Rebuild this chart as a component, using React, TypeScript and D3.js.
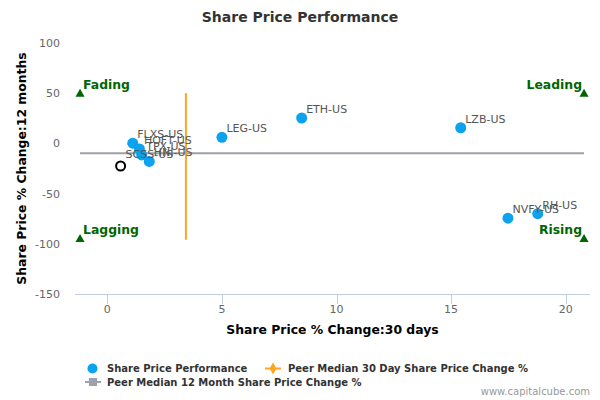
import React from "react";
import * as d3 from "d3";

const companies = ["FLXS-US", "HOFT-US", "TPX-US", "HNI-US", "LEG-US", "ETH-US", "LZB-US", "NVFY-US", "RH-US"];
const change30d = [1.11, 1.4, 1.5, 1.83, 5.0, 8.48, 15.42, 17.48, 18.78];
const change12m = [0.2, -5.5, -11.5, -18, 6.1, 25.3, 15.6, -74.5, -70];

const subjectName = "SCSS-US";
const subject30d = 0.58;
const subject12m = -22.5;

const peerMedian30d = 3.43;
const peerMedian12m = -9.9;

const quadrantX = [-1.19, 20.8];
const quadrantY = [49.2, -95.5];
const quadrantNames = ["Fading", "Leading", "Lagging", "Rising"];

const xTicks = [0, 5, 10, 15, 20];
const yTicks = [100, 50, 0, -50, -100, -150];

const W = 600;
const H = 400;
const plot = { left: 75, right: 590, top: 43, bottom: 294 };
const FONT = "'DejaVu Sans', sans-serif";
const BLUE = "#0ba2ee";
const ORANGE = "#ffa51f";
const GRAY = "#9ea1ab";
const GREEN = "#006600";

export default function App() {
  const x = d3.scaleLinear().domain([-1.41, 21.06]).range([plot.left, plot.right]);
  const y = d3.scaleLinear().domain([-150, 100]).range([plot.bottom, plot.top]);

  const tri = d3.symbol().type(d3.symbolTriangle).size(36)();
  const diamond = d3.symbol().type(d3.symbolDiamond).size(40)();

  const quads = [
    { name: quadrantNames[0], qx: quadrantX[0], qy: quadrantY[0], anchor: "start" },
    { name: quadrantNames[1], qx: quadrantX[1], qy: quadrantY[0], anchor: "end" },
    { name: quadrantNames[2], qx: quadrantX[0], qy: quadrantY[1], anchor: "start" },
    { name: quadrantNames[3], qx: quadrantX[1], qy: quadrantY[1], anchor: "end" },
  ];

  return (
    <svg width={W} height={H} style={{ position: "absolute", left: 0, top: 0, background: "#fff" }} fontFamily={FONT}>
      <rect width={W} height={H} fill="#fff" />
      <text x={300} y={21.5} textAnchor="middle" fontSize={14} fontWeight="bold" fill="#333">
        Share Price Performance
      </text>

      {/* y tick labels */}
      {yTicks.map((t) => (
        <text key={t} x={60} y={y(t) + 4} textAnchor="end" fontSize={11} fill="#666">
          {t}
        </text>
      ))}

      {/* x axis */}
      <line x1={plot.left} x2={plot.right} y1={plot.bottom + 0.5} y2={plot.bottom + 0.5} stroke="#c0d0e0" strokeWidth={1} />
      {xTicks.map((t) => (
        <g key={t}>
          <line x1={Math.round(x(t)) + 0.5} x2={Math.round(x(t)) + 0.5} y1={plot.bottom} y2={plot.bottom + 10} stroke="#c0d0e0" />
          <text x={x(t)} y={313} textAnchor="middle" fontSize={11} fill="#666">
            {t}
          </text>
        </g>
      ))}

      {/* axis titles */}
      <text x={(plot.left + plot.right) / 2} y={334} textAnchor="middle" fontSize={12.4} fontWeight="bold" fill="#000">
        Share Price % Change:30 days
      </text>
      <text
        transform={`translate(26,${(plot.top + plot.bottom) / 2}) rotate(-90)`}
        textAnchor="middle"
        fontSize={12.4}
        fontWeight="bold"
        fill="#000"
      >
        Share Price % Change:12 months
      </text>

      {/* peer median lines */}
      <line x1={x(quadrantX[0])} x2={x(quadrantX[1])} y1={y(peerMedian12m)} y2={y(peerMedian12m)} stroke={GRAY} strokeWidth={2} />
      <line x1={x(peerMedian30d)} x2={x(peerMedian30d)} y1={y(50)} y2={y(-96)} stroke={ORANGE} strokeWidth={2} />

      {/* quadrant markers */}
      {quads.map((q) => (
        <g key={q.name}>
          <path d={tri!} transform={`translate(${x(q.qx)},${y(q.qy)})`} fill={GREEN} />
          <text
            x={q.anchor === "start" ? x(q.qx) + 3 : x(q.qx) - 2}
            y={y(q.qy) - 5}
            textAnchor={q.anchor}
            fontSize={12.4}
            fontWeight="bold"
            fill={GREEN}
          >
            {q.name}
          </text>
        </g>
      ))}

      {/* peers */}
      {companies.map((c, i) => (
        <circle key={c} cx={x(change30d[i])} cy={y(change12m[i])} r={5.5} fill={BLUE} />
      ))}
      {companies.map((c, i) => (
        <text key={c + "l"} x={x(change30d[i]) + 4.5} y={y(change12m[i]) - 5} fontSize={11} fill="#555">
          {c}
        </text>
      ))}

      {/* subject company */}
      <circle cx={x(subject30d)} cy={y(subject12m)} r={4.5} fill="#fff" stroke="#000" strokeWidth={2} />
      <text x={x(subject30d) + 5} y={y(subject12m) - 8} fontSize={11} fill="#555">
        {subjectName}
      </text>

      {/* legend */}
      <circle cx={92.5} cy={368.5} r={5} fill={BLUE} />
      <text x={107} y={372} fontSize={10} fontWeight="bold" fill="#333">
        Share Price Performance
      </text>
      <line x1={265} x2={281} y1={368.5} y2={368.5} stroke={ORANGE} strokeWidth={2} />
      <path d={diamond!} transform="translate(273,368.5)" fill={ORANGE} />
      <text x={288} y={372} fontSize={10} fontWeight="bold" fill="#333">
        Peer Median 30 Day Share Price Change %
      </text>
      <line x1={85} x2={101} y1={382} y2={382} stroke={GRAY} strokeWidth={2} />
      <rect x={89} y={378} width={8} height={8} fill={GRAY} />
      <text x={107} y={385.5} fontSize={10} fontWeight="bold" fill="#333">
        Peer Median 12 Month Share Price Change %
      </text>

      <text x={590} y={395} textAnchor="end" fontSize={10} fill="#999">
        www.capitalcube.com
      </text>
    </svg>
  );
}
